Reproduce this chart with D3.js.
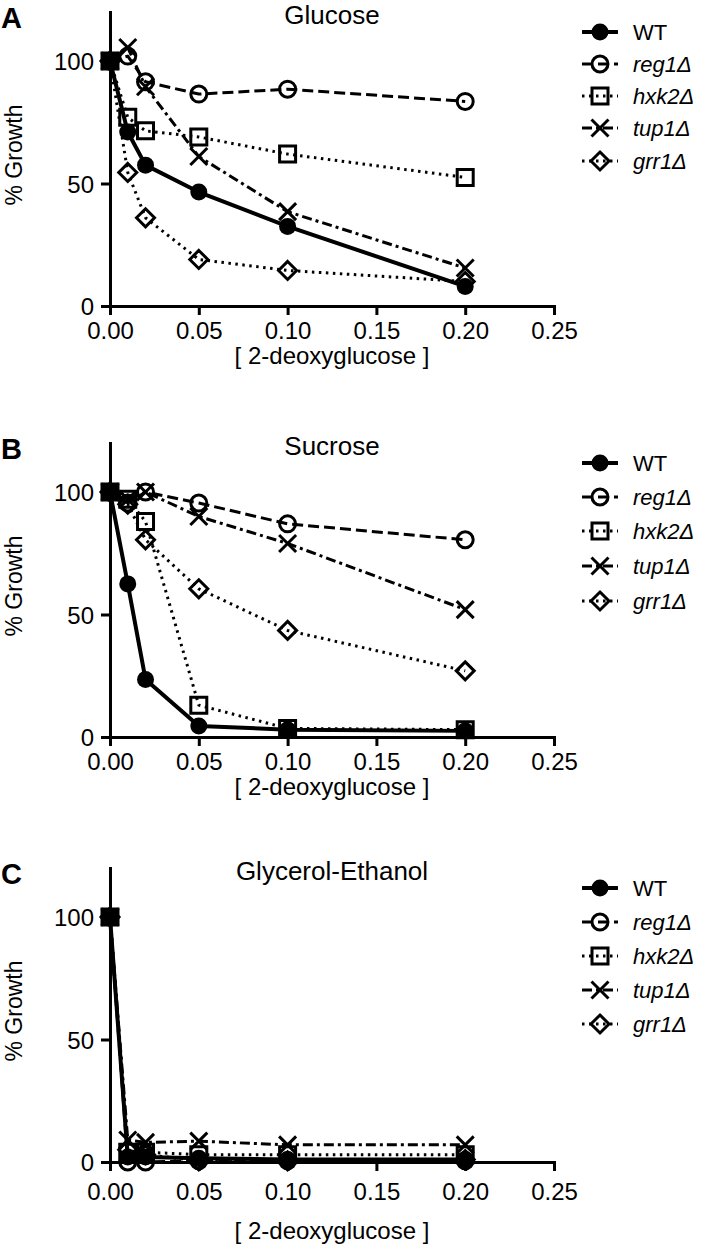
<!DOCTYPE html>
<html>
<head>
<meta charset="utf-8">
<script src="https://cdn.jsdelivr.net/npm/d3@7"></script>
<style>
  html, body { margin: 0; padding: 0; background: #fff; }
  svg { display: block; }
  text { font-family: "Liberation Sans", Arial, Helvetica, sans-serif; fill: #000; }
</style>
</head>
<body>
<svg id="chart" width="705" height="1247"></svg>
<script>
// ---------------- data ----------------
const xValues = [0, 0.01, 0.02, 0.05, 0.10, 0.20];
const xTicks = [0, 0.05, 0.10, 0.15, 0.20, 0.25];
const xTickLabels = ["0.00", "0.05", "0.10", "0.15", "0.20", "0.25"];
const yTicks = [0, 50, 100];
const seriesNames = ["WT", "reg1Δ", "hxk2Δ", "tup1Δ", "grr1Δ"];
const panelLetters = ["A", "B", "C"];
const panelTitles = ["Glucose", "Sucrose", "Glycerol-Ethanol"];
const xAxisTitle = "[ 2-deoxyglucose ]";
const yAxisTitle = "% Growth";

// Glucose
const glucoseWT   = [100, 71, 57.5, 46.5, 32.5, 8];
const glucoseReg1 = [100, 102, 91.5, 86.5, 88.5, 83.5];
const glucoseHxk2 = [100, 77, 71.5, 69, 62, 52.5];
const glucoseTup1 = [100, 105.5, 89.5, 61, 38.5, 15.5];
const glucoseGrr1 = [100, 54.5, 36, 19, 14.5, 10];
// Sucrose
const sucroseWT   = [100, 62.5, 23.5, 4.5, 3, 2.5];
const sucroseReg1 = [100, 95.5, 100, 95.5, 87, 80.5];
const sucroseHxk2 = [100, 97, 88, 13, 3.5, 3];
const sucroseTup1 = [100, 97, 100, 90, 79, 52];
const sucroseGrr1 = [100, 95, 80.5, 60.5, 43.5, 27];
// Glycerol-Ethanol
const glyEthWT   = [100, 2, 2, 1.5, 1, 1];
const glyEthReg1 = [100, 0, 0, 0.5, 0.5, 0.5];
const glyEthHxk2 = [100, 4, 4, 3, 3, 3];
const glyEthTup1 = [100, 9, 8, 8.5, 7, 7];
const glyEthGrr1 = [100, 5, 3, 0.5, 0.5, 1];

const panelData = [
  [glucoseWT, glucoseReg1, glucoseHxk2, glucoseTup1, glucoseGrr1],
  [sucroseWT, sucroseReg1, sucroseHxk2, sucroseTup1, sucroseGrr1],
  [glyEthWT, glyEthReg1, glyEthHxk2, glyEthTup1, glyEthGrr1]
];

// ---------------- styles / layout ----------------
const seriesStyle = [
  { marker: "filledCircle", dash: null,          width: 4 },
  { marker: "circle",       dash: "11,5",        width: 3 },
  { marker: "square",       dash: "2.5,4.5",     width: 3 },
  { marker: "x",            dash: "10,4,3,4",    width: 3 },
  { marker: "diamond",      dash: "2.5,4.5",     width: 3 }
];
const panelLayout = [
  { y0: 306,  tickOff: 24, titleOff: 49, legendY: [32, 64, 96, 128, 161] },
  { y0: 737,  tickOff: 24, titleOff: 49, legendY: [463, 497, 531, 566, 601] },
  { y0: 1162, tickOff: 29, titleOff: 68, legendY: [888, 922, 956, 990, 1024] }
];

const svg = d3.select("#chart");
const TICK_FONT = 24;

function markerPath(type) {
  const p = d3.path();
  if (type === "square") {
    const s = 8; p.rect(-s, -s, 2 * s, 2 * s);
  } else if (type === "x") {
    const s = 8.5; p.moveTo(-s, -s); p.lineTo(s, s); p.moveTo(-s, s); p.lineTo(s, -s);
  } else if (type === "diamond") {
    const s = 9; p.moveTo(0, -s); p.lineTo(s, 0); p.lineTo(0, s); p.lineTo(-s, 0); p.closePath();
  } else {
    const r = type === "filledCircle" ? 8.5 : 8; p.arc(0, 0, r, 0, 2 * Math.PI);
  }
  return p.toString();
}

function drawMarker(g, type, cx, cy) {
  g.append("path")
    .attr("d", markerPath(type))
    .attr("transform", `translate(${cx},${cy})`)
    .attr("fill", type === "filledCircle" ? "#000" : "none")
    .attr("stroke", "#000")
    .attr("stroke-width", type === "filledCircle" ? 0 : 3)
    .attr("stroke-linejoin", "miter");
}

panelLayout.forEach((L, pi) => {
  const x = d3.scaleLinear().domain([0, 0.25]).range([110, 554]);
  const y = d3.scaleLinear().domain([0, 120]).range([L.y0, L.y0 - 294]);
  const g = svg.append("g");

  // axes
  const yAxis = d3.axisLeft(y).tickValues(yTicks).tickSize(9).tickSizeOuter(0).tickPadding(7);
  const xAxis = d3.axisBottom(x).tickValues(xTicks).tickSize(9).tickSizeOuter(0)
    .tickFormat((d, i) => xTickLabels[i]);
  const ya = g.append("g").attr("transform", `translate(110,0)`).call(yAxis);
  const xa = g.append("g").attr("transform", `translate(0,${L.y0})`).call(xAxis);
  [ya, xa].forEach(a => {
    a.select(".domain").attr("stroke", "#000").attr("stroke-width", 3).attr("stroke-linecap", "square");
    a.selectAll(".tick line").attr("stroke", "#000").attr("stroke-width", 3);
    a.selectAll(".tick text").attr("font-size", TICK_FONT).attr("fill", "#000")
      .attr("font-family", "'Liberation Sans', Arial, sans-serif");
  });
  ya.selectAll(".tick text").attr("dy", "0.36em");
  xa.selectAll(".tick text").attr("y", L.tickOff).attr("dy", "0.36em");

  // titles
  g.append("text").attr("x", 332).attr("y", L.y0 - 291).attr("text-anchor", "middle")
    .attr("dominant-baseline", "central").attr("font-size", 26).text(panelTitles[pi]);
  g.append("text").attr("x", 1).attr("y", L.y0 - 278).attr("font-size", 29)
    .attr("font-weight", "bold").text(panelLetters[pi]);
  g.append("text").attr("x", 332).attr("y", L.y0 + L.titleOff).attr("text-anchor", "middle")
    .attr("dominant-baseline", "central").attr("font-size", 24).text(xAxisTitle);
  g.append("text").attr("transform", `translate(14,${L.y0 - 151}) rotate(-90)`)
    .attr("text-anchor", "middle").attr("dominant-baseline", "central")
    .attr("font-size", 23).text(yAxisTitle);

  // series
  const line = d3.line().x((d, i) => x(xValues[i])).y(d => y(d));
  panelData[pi].forEach((vals, si) => {
    const st = seriesStyle[si];
    g.append("path").datum(vals).attr("d", line)
      .attr("fill", "none").attr("stroke", "#000")
      .attr("stroke-width", st.width)
      .attr("stroke-dasharray", st.dash)
      .attr("stroke-linejoin", "round");
  });
  panelData[pi].forEach((vals, si) => {
    const st = seriesStyle[si];
    vals.forEach((v, i) => drawMarker(g, st.marker, x(xValues[i]), y(v)));
  });

  // legend
  seriesNames.forEach((name, si) => {
    const st = seriesStyle[si];
    const ly = L.legendY[si];
    g.append("line").attr("x1", 582).attr("x2", 618).attr("y1", ly).attr("y2", ly)
      .attr("stroke", "#000").attr("stroke-width", st.width)
      .attr("stroke-dasharray", st.dash);
    drawMarker(g, st.marker, 600, ly);
    g.append("text").attr("x", 633).attr("y", ly).attr("dominant-baseline", "central")
      .attr("font-size", 22).attr("font-style", si === 0 ? "normal" : "italic").text(name);
  });
});
</script>
</body>
</html>
